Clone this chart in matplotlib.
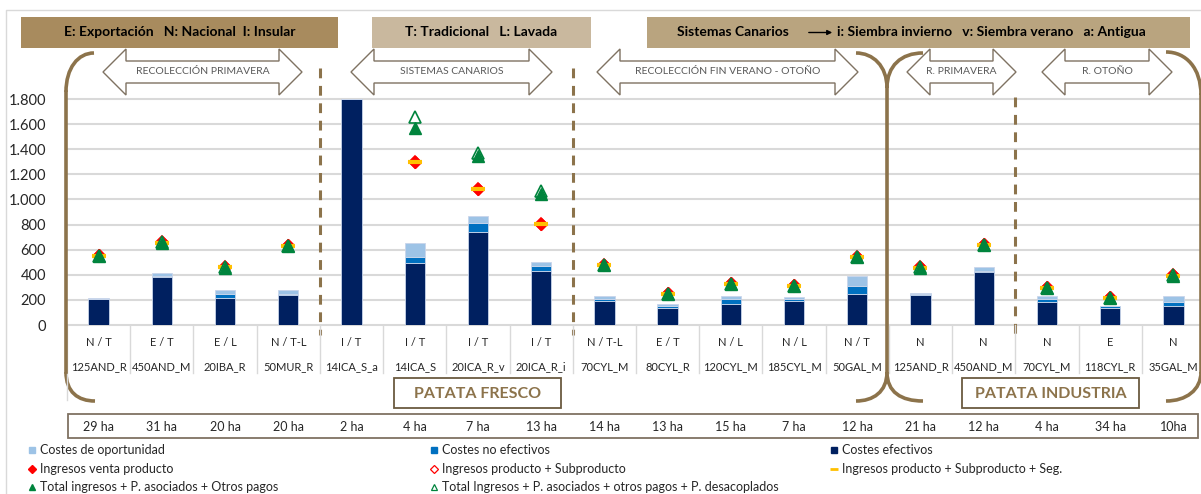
"""Costes e ingresos por explotación tipo de patata."""
import matplotlib

matplotlib.use("Agg")
import matplotlib.pyplot as plt
import matplotlib.transforms as mtransforms
import numpy as np
from matplotlib.patches import PathPatch, Polygon, Rectangle
from matplotlib.path import Path
from matplotlib.ticker import FuncFormatter

plt.rcParams["font.family"] = ["Lato", "DejaVu Sans"]

# Categories (explotaciones tipo)
cats = ["125AND_R", "450AND_M", "20IBA_R", "50MUR_R", "14ICA_S_a", "14ICA_S",
        "20ICA_R_v", "20ICA_R_i", "70CYL_M", "80CYL_R", "120CYL_M", "185CYL_M",
        "50GAL_M", "125AND_R", "450AND_M", "70CYL_M", "118CYL_R", "35GAL_M"]
tipos = ["N / T", "E / T", "E / L", "N / T-L", "I / T", "I / T", "I / T", "I / T",
         "N / T-L", "E / T", "N / L", "N / L", "N / T", "N", "N", "N", "E", "N"]
hectareas = ["29 ha", "31 ha", "20 ha", "20 ha", "2 ha", "4 ha", "7 ha", "13 ha",
             "14 ha", "13 ha", "15 ha", "7 ha", "12 ha", "21 ha", "12 ha", "4 ha",
             "34 ha", "10ha"]

# Stacked costs (segments)
costes_efectivos = np.array([204, 384, 217, 241, 1800, 490, 742, 429, 188, 135,
                             164, 188, 244, 239, 419, 186, 133, 148])
costes_no_efectivos = np.array([5, 5, 30, 6, 0, 48, 72, 40, 19, 13,
                                45, 19, 69, 5, 13, 21, 15, 32])
costes_oportunidad = np.array([8, 24, 29, 29, 0, 112, 53, 32, 24, 22,
                               24, 18, 79, 10, 26, 21, 6, 48])

# Income markers
nan = np.nan
ingresos_venta = [555, 661, 462, 634, nan, 1300, 1080, 808, 480, 252,
                  332, 316, 544, 462, 642, 300, 221, 398]
ingresos_prod_sub = [553, 659, 460, 632, nan, 1300, 1080, 808, 478, 250,
                     330, 314, 542, 460, 640, 298, 219, 396]
ingresos_seg = [550, 656, 458, 629, nan, 1300, 1080, 808, 475, 247,
                327, 311, 539, 457, 637, 295, 216, 393]
total_ingresos = [549, 655, 456, 628, nan, 1569, 1344, 1047, 474, 246,
                  326, 310, 538, 456, 636, 294, 215, 392]
total_desacoplados = [552, 660, 460, 632, nan, 1654, 1370, 1066, 478, 250,
                      330, 314, 542, 460, 640, 298, 218, 396]

C_EFE = "#002060"
C_NOEFE = "#0070C0"
C_OPOR = "#9DC3E6"
RED = "#FF0000"
YELLOW = "#FFC000"
GREEN = "#00843D"
BROWN = "#8C734B"
GRID = "#D9D9D9"

W, H = 1201, 494
fig = plt.figure(figsize=(W / 100, H / 100), dpi=100)


def px_rect(x0, y0, x1, y1):
    return [x0 / W, 1 - y1 / H, (x1 - x0) / W, (y1 - y0) / H]


# Main chart
ax = fig.add_axes(px_rect(67, 99, 1205, 325))
x = np.arange(len(cats))
bw = 0.32
ax.bar(x, costes_efectivos, width=bw, color=C_EFE, edgecolor="#C9D5EA", lw=0.6, zorder=2)
ax.bar(x, costes_no_efectivos, width=bw, bottom=costes_efectivos, color=C_NOEFE,
       edgecolor="#C9D5EA", lw=0.6, zorder=2)
ax.bar(x, costes_oportunidad, width=bw, bottom=costes_efectivos + costes_no_efectivos,
       color=C_OPOR, edgecolor="#C9D5EA", lw=0.6, zorder=2)

ax.plot(x, ingresos_prod_sub, ls="none", marker="D", ms=6.5, mfc="white", mec=RED,
        mew=1.2, zorder=3)
ax.plot(x, ingresos_venta, ls="none", marker="D", ms=6.5, mfc=RED, mec=RED, zorder=3.5)
ax.plot(x, ingresos_seg, ls="none", marker="_", ms=10, mec=YELLOW, mew=3, zorder=4)
ax.plot(x, total_desacoplados, ls="none", marker="^", ms=8.5, mfc="white", mec=GREEN,
        mew=1.2, zorder=5)
ax.plot(x, total_ingresos, ls="none", marker="^", ms=8, mfc=GREEN, mec=GREEN, zorder=6)

ax.set_xlim(-0.5, len(cats) - 0.5)
ax.set_ylim(0, 1800)
ax.set_yticks(range(0, 1801, 200))
ax.yaxis.set_major_formatter(FuncFormatter(lambda v, p: f"{v:,.0f}".replace(",", ".")))
ax.tick_params(axis="y", length=0, pad=15, labelsize=10.5, labelcolor="#262626")
ax.set_xticks([])
ax.grid(axis="y", color=GRID, lw=1.5, zorder=0, clip_on=False)
ax.set_axisbelow(True)
for s in ax.spines.values():
    s.set_visible(False)

# Overlay in pixel coordinates for the decorations
ov = fig.add_axes([0, 0, 1, 1])
ov.set_xlim(0, W)
ov.set_ylim(H, 0)
ov.axis("off")
bt = mtransforms.blended_transform_factory(ax.transData, ov.transData)

# outer frame
ov.plot([6, 6, W], [H, 10, 10], color=GRID, lw=1)

# header boxes
ov.add_patch(Rectangle((21, 17), 317, 31, fc="#A88B5E", ec="none"))
ov.text(180, 32.5, "E: Exportación   N: Nacional  I: Insular", ha="center", va="center",
        fontsize=10, fontweight="bold")
ov.add_patch(Rectangle((372, 17), 219, 31, fc="#C9B89E", ec="none"))
ov.text(481, 32.5, "T: Tradicional   L: Lavada", ha="center", va="center",
        fontsize=10, fontweight="bold")
ov.add_patch(Rectangle((647, 17), 543, 31, fc="#B9A47F", ec="none"))
ov.text(677, 32.5, "Sistemas Canarios", ha="left", va="center", fontsize=10,
        fontweight="bold")
ov.annotate("", xy=(835, 32.5), xytext=(806, 32.5),
            arrowprops=dict(arrowstyle="-|>", color="black", lw=1, mutation_scale=7))
ov.text(837, 32.5, "i: Siembra invierno   v: Siembra verano   a: Antigua", ha="left",
        va="center", fontsize=10, fontweight="bold")


def double_arrow(x0, x1, label, head=23):
    yt, ys0, yc, ys1, yb = 49, 61, 72, 83, 95
    pts = [(x0, yc), (x0 + head, yt), (x0 + head, ys0), (x1 - head, ys0),
           (x1 - head, yt), (x1, yc), (x1 - head, yb), (x1 - head, ys1),
           (x0 + head, ys1), (x0 + head, yb)]
    ov.add_patch(Polygon(pts, closed=True, fc="white", ec="#7F7262", lw=1, zorder=3))
    ov.text((x0 + x1) / 2, yc, label, ha="center", va="center", fontsize=7.5,
            color="#595959", zorder=4)


double_arrow(103, 302, "RECOLECCIÓN PRIMAVERA")
double_arrow(351, 552, "SISTEMAS CANARIOS")
double_arrow(597, 858, "RECOLECCIÓN FIN VERANO - OTOÑO")
double_arrow(907, 1016, "R. PRIMAVERA")
double_arrow(1042, 1172, "R. OTOÑO")

# dashed separators between harvest periods
for xs, y0 in [(3.5, 68), (7.5, 68), (14.5, 97)]:
    ov.plot([xs, xs], [y0, 335], transform=bt, color=BROWN, lw=2.2, ls=(0, (3.2, 2.5)))

# category table below the axis
for i in range(len(cats) + 1):
    ov.plot([i - 0.5, i - 0.5], [325, 400 if i == 0 else 373], transform=bt,
            color=GRID, lw=1)
for i in range(len(cats)):
    ov.text(i, 342, tipos[i], transform=bt, ha="center", va="center", fontsize=8,
            color="#262626")
    ov.text(i, 367, cats[i], transform=bt, ha="center", va="center", fontsize=8,
            color="#262626")

# hectares row
ov.add_patch(Rectangle((68, 414), 1130, 24, fc="white", ec="#7F7262", lw=1.3))
for i in range(len(cats)):
    ov.text(i, 426.5, hectareas[i], transform=bt, ha="center", va="center",
            fontsize=9, color="#262626")

# group labels
for x0, x1, label in [(394, 561, "PATATA FRESCO"), (962, 1139, "PATATA INDUSTRIA")]:
    ov.add_patch(Rectangle((x0, 378), x1 - x0, 30, fc="white", ec="#6B5A40", lw=1.3))
    ov.text((x0 + x1) / 2, 393.5, label, ha="center", va="center", fontsize=11.5,
            fontweight="bold", color=BROWN)


# brackets
def curve(p0, c1, c2, p1):
    path = Path([p0, c1, c2, p1], [Path.MOVETO, Path.CURVE4, Path.CURVE4, Path.CURVE4])
    ov.add_patch(PathPatch(path, fc="none", ec=BROWN, lw=2.6, capstyle="butt"))


curve((94, 53), (78, 53), (66, 68), (66, 92))
ov.plot([66, 66], [92, 372], color=BROWN, lw=2.6)
curve((66, 372), (66, 392), (78, 401), (95, 401))

curve((856, 53), (873, 53), (887, 66), (887, 88))
curve((923, 53), (901, 53), (887, 66), (887, 88))
ov.plot([887, 887], [88, 372], color=BROWN, lw=2.6)
curve((887, 372), (887, 392), (873, 401), (856, 401))
curve((887, 372), (887, 392), (901, 401), (923, 401))

curve((1166, 52), (1186, 52), (1201, 68), (1201, 95))
ov.plot([1201, 1201], [95, 372], color=BROWN, lw=2.6)
curve((1201, 372), (1201, 390), (1186, 401), (1166, 401))

# legend
legend_items = [
    (32, 450, dict(marker="s", ms=4.5, mfc=C_OPOR, mec=C_OPOR), "Costes de oportunidad"),
    (32, 469, dict(marker="D", ms=4, mfc=RED, mec=RED), "Ingresos venta producto"),
    (32, 487, dict(marker="^", ms=4.5, mfc=GREEN, mec=GREEN),
     "Total ingresos + P. asociados + Otros pagos"),
    (434, 450, dict(marker="s", ms=4.5, mfc=C_NOEFE, mec=C_NOEFE), "Costes no efectivos"),
    (434, 469, dict(marker="D", ms=4, mfc="white", mec=RED, mew=0.9),
     "Ingresos producto + Subproducto"),
    (434, 487, dict(marker="^", ms=5, mfc="white", mec=GREEN, mew=0.9),
     "Total Ingresos + P. asociados + otros pagos + P. desacoplados"),
    (834, 450, dict(marker="s", ms=4.5, mfc=C_EFE, mec=C_EFE), "Costes efectivos"),
    (834, 469, dict(marker="_", ms=6, mec=YELLOW, mew=2),
     "Ingresos producto + Subproducto + Seg."),
]
for lx, ly, mk, label in legend_items:
    ov.plot([lx], [ly], ls="none", **mk)
    ov.text(lx + 8, ly, label, ha="left", va="center", fontsize=9, color="#262626")

fig.savefig("out.png", dpi=100)
